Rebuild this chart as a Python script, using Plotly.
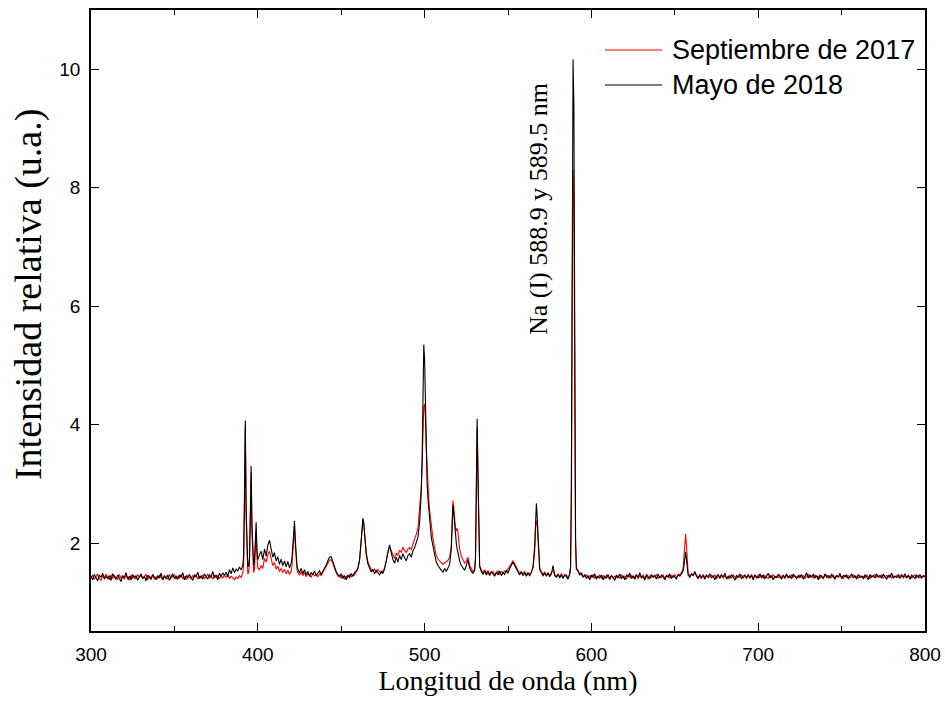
import plotly.graph_objects as go

# Wavelength grid (nm), shared by both spectra
wavelength = [
    300, 301, 302, 303, 304, 305, 306, 307, 308, 309,
    310, 311, 312, 313, 314, 315, 316, 317, 318, 319,
    320, 321, 322, 323, 324, 325, 326, 327, 328, 329,
    330, 331, 332, 333, 334, 335, 336, 337, 338, 339,
    340, 341, 342, 343, 344, 345, 346, 347, 348, 349,
    350, 351, 352, 353, 354, 355, 356, 357, 358, 359,
    360, 361, 362, 363, 364, 365, 366, 367, 368, 369,
    370, 371, 372, 373, 374, 375, 376, 377, 378, 379,
    380, 381, 382, 383, 384, 385, 386, 387, 388, 389,
    390, 391, 391.5, 392, 392.5, 393, 393.5, 394, 394.5, 395,
    395.5, 396, 396.5, 397, 397.5, 398, 398.5, 399, 399.5, 400,
    401, 402, 403, 404, 405, 406, 407, 408, 409, 410,
    411, 412, 413, 414, 415, 416, 417, 418, 419, 420,
    420.5, 421, 421.5, 422, 422.5, 423, 423.5, 424, 425, 426,
    427, 428, 429, 430, 431, 432, 433, 434, 435, 436,
    437, 438, 439, 440, 441, 442, 443, 444, 445, 446,
    447, 448, 449, 450, 451, 452, 453, 454, 455, 456,
    457, 458, 459, 460, 461, 462, 462.5, 463, 463.5, 464,
    465, 466, 467, 468, 469, 470, 471, 472, 473, 474,
    475, 476, 477, 478, 479, 480, 481, 482, 483, 484,
    485, 486, 487, 488, 489, 490, 491, 492, 493, 494,
    495, 496, 497, 498, 498.5, 499, 499.5, 500, 500.5, 501,
    501.5, 502, 502.5, 503, 504, 505, 506, 507, 508, 509,
    510, 511, 512, 513, 514, 515, 516, 516.5, 517, 517.5,
    518, 518.5, 519, 519.5, 520, 521, 522, 523, 524, 525,
    526, 527, 528, 529, 530, 530.5, 531, 531.5, 532, 532.5,
    533, 534, 535, 536, 537, 538, 539, 540, 541, 542,
    543, 544, 545, 546, 547, 548, 549, 550, 551, 552,
    553, 554, 555, 556, 557, 558, 559, 560, 561, 562,
    563, 564, 565, 566, 566.5, 567, 567.5, 568, 568.5, 569,
    570, 571, 572, 573, 574, 575, 576, 577, 578, 579,
    580, 581, 582, 583, 584, 585, 586, 587, 587.5, 588,
    588.5, 589, 589.5, 590, 590.5, 591, 592, 593, 594, 595,
    596, 597, 598, 599, 600, 601, 602, 603, 604, 605,
    606, 607, 608, 609, 610, 611, 612, 613, 614, 615,
    616, 617, 618, 619, 620, 621, 622, 623, 624, 625,
    626, 627, 628, 629, 630, 631, 632, 633, 634, 635,
    636, 637, 638, 639, 640, 641, 642, 643, 644, 645,
    646, 647, 648, 649, 650, 651, 652, 653, 654, 655,
    655.5, 656, 656.5, 657, 657.5, 658, 659, 660, 661, 662,
    663, 664, 665, 666, 667, 668, 669, 670, 671, 672,
    673, 674, 675, 676, 677, 678, 679, 680, 681, 682,
    683, 684, 685, 686, 687, 688, 689, 690, 691, 692,
    693, 694, 695, 696, 697, 698, 699, 700, 701, 702,
    703, 704, 705, 706, 707, 708, 709, 710, 711, 712,
    713, 714, 715, 716, 717, 718, 719, 720, 721, 722,
    723, 724, 725, 726, 727, 728, 729, 730, 731, 732,
    733, 734, 735, 736, 737, 738, 739, 740, 741, 742,
    743, 744, 745, 746, 747, 748, 749, 750, 751, 752,
    753, 754, 755, 756, 757, 758, 759, 760, 761, 762,
    763, 764, 765, 766, 767, 768, 769, 770, 771, 772,
    773, 774, 775, 776, 777, 778, 779, 780, 781, 782,
    783, 784, 785, 786, 787, 788, 789, 790, 791, 792,
    793, 794, 795, 796, 797, 798, 799, 800,
]

# Septiembre de 2017 (red)
sep_2017 = [
    1.41, 1.46, 1.39, 1.44, 1.48, 1.40, 1.37, 1.45, 1.42, 1.47,
    1.43, 1.38, 1.46, 1.40, 1.45, 1.42, 1.38, 1.47, 1.41, 1.44,
    1.39, 1.45, 1.42, 1.37, 1.46, 1.41, 1.44, 1.39, 1.47, 1.42,
    1.45, 1.40, 1.43, 1.47, 1.38, 1.44, 1.41, 1.46, 1.39, 1.43,
    1.40, 1.46, 1.42, 1.38, 1.45, 1.43, 1.39, 1.47, 1.41, 1.44,
    1.46, 1.39, 1.44, 1.41, 1.47, 1.40, 1.43, 1.38, 1.45, 1.42,
    1.40, 1.45, 1.42, 1.47, 1.39, 1.44, 1.41, 1.46, 1.40, 1.43,
    1.47, 1.41, 1.44, 1.39, 1.46, 1.42, 1.45, 1.40, 1.44, 1.41,
    1.45, 1.42, 1.47, 1.40, 1.44, 1.41, 1.38, 1.43, 1.40, 1.45,
    1.42, 1.50, 1.62, 2.60, 3.95, 2.45, 1.60, 1.48, 1.50, 1.62,
    2.35, 3.20, 2.20, 1.62, 1.50, 1.55, 1.80, 2.20, 1.75, 1.58,
    1.55, 1.62, 1.57, 1.74, 1.68, 1.80, 1.86, 1.74, 1.62, 1.67,
    1.56, 1.61, 1.52, 1.57, 1.50, 1.56, 1.48, 1.54, 1.47, 1.52,
    1.62, 1.85, 2.10, 2.25, 1.95, 1.68, 1.55, 1.50, 1.46, 1.51,
    1.45, 1.50, 1.43, 1.48, 1.46, 1.42, 1.49, 1.45, 1.47, 1.43,
    1.48, 1.45, 1.50, 1.55, 1.60, 1.66, 1.71, 1.72, 1.66, 1.57,
    1.50, 1.44, 1.46, 1.41, 1.45, 1.39, 1.44, 1.42, 1.47, 1.43,
    1.47, 1.46, 1.51, 1.56, 1.70, 2.00, 2.25, 2.38, 2.33, 2.12,
    1.85, 1.68, 1.60, 1.55, 1.52, 1.56, 1.50, 1.55, 1.52, 1.49,
    1.53, 1.58, 1.70, 1.86, 1.94, 1.87, 1.78, 1.74, 1.83, 1.79,
    1.88, 1.84, 1.93, 1.87, 1.84, 1.90, 1.92, 1.89, 1.98, 2.05,
    2.15, 2.25, 2.55, 2.95, 3.30, 3.90, 4.30, 4.35, 4.10, 3.60,
    3.20, 2.95, 2.75, 2.55, 2.25, 2.08, 1.92, 1.79, 1.73, 1.70,
    1.67, 1.64, 1.67, 1.68, 1.71, 1.76, 1.95, 2.40, 2.72, 2.60,
    2.40, 2.25, 2.20, 2.25, 2.18, 1.90, 1.78, 1.72, 1.66, 1.70,
    1.76, 1.62, 1.56, 1.52, 1.55, 1.72, 2.70, 3.95, 3.10, 1.85,
    1.62, 1.55, 1.50, 1.55, 1.49, 1.53, 1.48, 1.50, 1.52, 1.47,
    1.49, 1.53, 1.48, 1.52, 1.50, 1.53, 1.51, 1.56, 1.60, 1.66,
    1.70, 1.65, 1.58, 1.54, 1.49, 1.51, 1.48, 1.52, 1.47, 1.50,
    1.48, 1.51, 1.58, 1.85, 2.25, 2.38, 2.30, 2.05, 1.78, 1.58,
    1.52, 1.47, 1.51, 1.46, 1.49, 1.45, 1.50, 1.54, 1.47, 1.44,
    1.45, 1.44, 1.48, 1.43, 1.45, 1.46, 1.42, 1.47, 1.58, 2.70,
    6.20, 8.30, 7.80, 4.30, 1.95, 1.55, 1.54, 1.48, 1.47, 1.44,
    1.44, 1.46, 1.41, 1.45, 1.42, 1.47, 1.40, 1.44, 1.42, 1.46,
    1.41, 1.45, 1.40, 1.46, 1.43, 1.39, 1.45, 1.41, 1.44, 1.42,
    1.45, 1.40, 1.46, 1.42, 1.44, 1.39, 1.47, 1.42, 1.45, 1.41,
    1.43, 1.47, 1.40, 1.45, 1.42, 1.46, 1.41, 1.44, 1.39, 1.45,
    1.42, 1.45, 1.43, 1.47, 1.40, 1.44, 1.42, 1.46, 1.41, 1.44,
    1.46, 1.41, 1.45, 1.42, 1.47, 1.43, 1.45, 1.47, 1.50, 1.58,
    1.80, 2.05, 2.15, 1.95, 1.65, 1.50, 1.45, 1.47, 1.46, 1.50,
    1.46, 1.43, 1.44, 1.40, 1.47, 1.42, 1.45, 1.41, 1.44, 1.46,
    1.42, 1.46, 1.40, 1.44, 1.43, 1.47, 1.41, 1.45, 1.42, 1.40,
    1.45, 1.41, 1.46, 1.43, 1.40, 1.45, 1.42, 1.46, 1.41, 1.44,
    1.43, 1.45, 1.40, 1.47, 1.42, 1.44, 1.41, 1.46, 1.42, 1.45,
    1.41, 1.45, 1.43, 1.40, 1.46, 1.42, 1.47, 1.41, 1.44, 1.42,
    1.46, 1.42, 1.44, 1.40, 1.45, 1.43, 1.41, 1.46, 1.42, 1.45,
    1.43, 1.41, 1.46, 1.42, 1.45, 1.40, 1.44, 1.47, 1.42, 1.44,
    1.41, 1.46, 1.43, 1.44, 1.40, 1.45, 1.42, 1.44, 1.46, 1.41,
    1.45, 1.42, 1.46, 1.41, 1.44, 1.43, 1.45, 1.42, 1.40, 1.46,
    1.42, 1.45, 1.41, 1.44, 1.46, 1.42, 1.44, 1.41, 1.45, 1.43,
    1.44, 1.41, 1.46, 1.43, 1.40, 1.45, 1.43, 1.47, 1.42, 1.44,
    1.42, 1.46, 1.41, 1.44, 1.45, 1.42, 1.46, 1.41, 1.44, 1.43,
    1.45, 1.42, 1.44, 1.47, 1.41, 1.44, 1.42, 1.46, 1.43, 1.41,
    1.44, 1.46, 1.42, 1.45, 1.41, 1.44, 1.43, 1.45,
]

# Mayo de 2018 (black)
may_2018 = [
    1.44, 1.38, 1.47, 1.41, 1.36, 1.46, 1.42, 1.49, 1.39, 1.44,
    1.40, 1.45, 1.37, 1.48, 1.43, 1.39, 1.46, 1.41, 1.35, 1.45,
    1.42, 1.50, 1.39, 1.44, 1.38, 1.47, 1.41, 1.45, 1.37, 1.43,
    1.48, 1.40, 1.44, 1.36, 1.46, 1.42, 1.39, 1.47, 1.43, 1.38,
    1.45, 1.41, 1.49, 1.38, 1.44, 1.40, 1.46, 1.37, 1.43, 1.48,
    1.40, 1.44, 1.39, 1.46, 1.42, 1.50, 1.38, 1.45, 1.41, 1.47,
    1.42, 1.37, 1.46, 1.43, 1.51, 1.40, 1.45, 1.39, 1.48, 1.44,
    1.39, 1.47, 1.42, 1.52, 1.41, 1.46, 1.38, 1.49, 1.44, 1.50,
    1.45, 1.51, 1.43, 1.55, 1.48, 1.58, 1.50, 1.56, 1.53, 1.59,
    1.55, 1.62, 1.78, 2.80, 4.07, 2.60, 1.75, 1.60, 1.62, 1.75,
    2.50, 3.30, 2.30, 1.75, 1.62, 1.70, 1.95, 2.35, 1.90, 1.72,
    1.80, 1.86, 1.72, 1.90, 1.78, 1.96, 2.05, 1.88, 1.76, 1.84,
    1.70, 1.77, 1.64, 1.73, 1.62, 1.70, 1.60, 1.69, 1.58, 1.66,
    1.75, 1.95, 2.20, 2.37, 2.05, 1.75, 1.62, 1.56, 1.50, 1.57,
    1.48, 1.55, 1.46, 1.52, 1.44, 1.50, 1.47, 1.53, 1.45, 1.49,
    1.53, 1.47, 1.52, 1.58, 1.63, 1.70, 1.76, 1.77, 1.68, 1.60,
    1.52, 1.47, 1.43, 1.48, 1.40, 1.45, 1.38, 1.46, 1.42, 1.48,
    1.44, 1.50, 1.53, 1.58, 1.72, 2.05, 2.30, 2.42, 2.35, 2.10,
    1.80, 1.65, 1.57, 1.51, 1.56, 1.48, 1.54, 1.50, 1.46, 1.52,
    1.49, 1.56, 1.68, 1.85, 1.97, 1.84, 1.72, 1.66, 1.76, 1.68,
    1.79, 1.72, 1.82, 1.75, 1.70, 1.79, 1.82, 1.76, 1.87, 1.92,
    2.00, 2.10, 2.35, 2.85, 3.40, 4.50, 5.35, 5.10, 4.20, 3.50,
    3.00, 2.75, 2.55, 2.40, 2.10, 1.95, 1.80, 1.68, 1.62, 1.57,
    1.54, 1.51, 1.57, 1.52, 1.59, 1.64, 1.90, 2.35, 2.64, 2.50,
    2.30, 2.12, 2.00, 1.90, 1.82, 1.70, 1.62, 1.57, 1.54, 1.62,
    1.72, 1.58, 1.52, 1.49, 1.54, 1.75, 2.80, 4.10, 3.20, 1.90,
    1.60, 1.52, 1.47, 1.53, 1.46, 1.51, 1.45, 1.52, 1.48, 1.44,
    1.51, 1.46, 1.53, 1.45, 1.50, 1.47, 1.54, 1.49, 1.57, 1.63,
    1.68, 1.62, 1.57, 1.50, 1.46, 1.52, 1.45, 1.50, 1.44, 1.49,
    1.45, 1.50, 1.60, 1.95, 2.45, 2.67, 2.45, 2.10, 1.75, 1.55,
    1.50, 1.45, 1.49, 1.44, 1.50, 1.43, 1.48, 1.62, 1.45, 1.42,
    1.48, 1.41, 1.46, 1.40, 1.47, 1.43, 1.39, 1.48, 1.60, 3.00,
    7.50, 10.17, 9.40, 5.20, 2.10, 1.58, 1.52, 1.46, 1.50, 1.42,
    1.47, 1.40, 1.45, 1.38, 1.46, 1.42, 1.48, 1.39, 1.44, 1.41,
    1.46, 1.38, 1.44, 1.41, 1.47, 1.39, 1.45, 1.42, 1.37, 1.46,
    1.41, 1.48, 1.40, 1.44, 1.38, 1.46, 1.43, 1.49, 1.40, 1.45,
    1.39, 1.46, 1.42, 1.50, 1.41, 1.44, 1.37, 1.47, 1.43, 1.40,
    1.47, 1.42, 1.45, 1.39, 1.48, 1.41, 1.46, 1.43, 1.38, 1.45,
    1.42, 1.48, 1.40, 1.45, 1.43, 1.39, 1.47, 1.44, 1.48, 1.53,
    1.62, 1.78, 1.85, 1.72, 1.55, 1.46, 1.42, 1.48, 1.45, 1.52,
    1.44, 1.40, 1.47, 1.42, 1.45, 1.39, 1.46, 1.43, 1.48, 1.41,
    1.45, 1.38, 1.44, 1.47, 1.40, 1.46, 1.42, 1.49, 1.39, 1.44,
    1.41, 1.46, 1.43, 1.37, 1.45, 1.42, 1.48, 1.40, 1.44, 1.46,
    1.40, 1.47, 1.42, 1.45, 1.38, 1.46, 1.43, 1.41, 1.48, 1.42,
    1.46, 1.40, 1.44, 1.49, 1.41, 1.45, 1.38, 1.44, 1.42, 1.47,
    1.43, 1.39, 1.46, 1.42, 1.48, 1.41, 1.45, 1.40, 1.47, 1.43,
    1.40, 1.45, 1.42, 1.47, 1.39, 1.44, 1.50, 1.41, 1.46, 1.43,
    1.47, 1.41, 1.45, 1.38, 1.46, 1.43, 1.40, 1.48, 1.42, 1.45,
    1.41, 1.47, 1.43, 1.39, 1.46, 1.42, 1.49, 1.40, 1.45, 1.43,
    1.46, 1.40, 1.44, 1.48, 1.41, 1.45, 1.39, 1.47, 1.42, 1.44,
    1.40, 1.46, 1.43, 1.38, 1.47, 1.42, 1.45, 1.41, 1.48, 1.43,
    1.45, 1.41, 1.47, 1.43, 1.39, 1.46, 1.42, 1.49, 1.41, 1.44,
    1.42, 1.47, 1.40, 1.45, 1.43, 1.48, 1.41, 1.45, 1.39, 1.46,
    1.43, 1.40, 1.46, 1.42, 1.47, 1.41, 1.45, 1.43,
]

x_ticks = [300, 400, 500, 600, 700, 800]
x_minor = [350, 450, 550, 650, 750]
y_ticks = [2, 4, 6, 8, 10]
series_names = ["Septiembre de 2017", "Mayo de 2018"]
series_colors = ["#ff0000", "#000000"]
annotation_text = "Na (I) 588.9 y 589.5 nm"

assert len(wavelength) == len(sep_2017) == len(may_2018), (len(wavelength), len(sep_2017), len(may_2018))

fig = go.Figure()
for name, ys, col in zip(series_names, [sep_2017, may_2018], series_colors):
    fig.add_trace(go.Scatter(x=wavelength, y=ys, mode="lines", name=name,
                             line=dict(color=col, width=1.1), showlegend=False))

serif = "Liberation Serif, Times New Roman, serif"
sans = "Liberation Sans, Arial, sans-serif"

fig.update_layout(
    width=945, height=702,
    margin=dict(l=91, r=20, t=10, b=71),
    plot_bgcolor="white", paper_bgcolor="white",
    xaxis=dict(
        range=[300, 800], tickvals=x_ticks, ticktext=[str(v) for v in x_ticks],
        ticks="inside", ticklen=8, tickwidth=1.3, tickcolor="black",
        minor=dict(tickvals=x_minor, ticks="inside", ticklen=5,
                   tickwidth=1.3, tickcolor="black"),
        showline=True, linecolor="black", linewidth=1.6, mirror="allticks",
        showgrid=False, zeroline=False, automargin=False,
        tickfont=dict(family=sans, size=19, color="black"),
        ticklabelstandoff=5,
        title=dict(text="Longitud de onda (nm)", font=dict(family=serif, size=28, color="black"),
                   standoff=5),
    ),
    yaxis=dict(
        range=[0.515, 11.0], tickvals=y_ticks, ticktext=[str(v) for v in y_ticks],
        ticks="inside", ticklen=8, tickwidth=1.3, tickcolor="black",
        showline=True, linecolor="black", linewidth=1.6, mirror="allticks",
        showgrid=False, zeroline=False, automargin=False,
        tickfont=dict(family=sans, size=19, color="black"),
        ticklabelstandoff=5,
    ),
)

# Y-axis title placed as in the reference
fig.add_annotation(xref="paper", yref="paper", x=-0.0755, y=0.541, text="Intensidad relativa (u.a.)",
                   textangle=-90, showarrow=False, xanchor="center", yanchor="middle",
                   font=dict(family=serif, size=38, color="black"))

# Rotated peak label
fig.add_annotation(x=568, y=7.64, xref="x", yref="y", text=annotation_text, textangle=-90,
                   showarrow=False, font=dict(family=serif, size=26, color="black"))

# Legend drawn manually (longer sample lines as in the reference)
leg_y = [0.9356, 0.8792]
for name, col, yy in zip(series_names, series_colors, leg_y):
    fig.add_shape(type="line", xref="paper", yref="paper", x0=0.6163, x1=0.6847, y0=yy, y1=yy,
                  line=dict(color=col, width=1.2))
    fig.add_annotation(xref="paper", yref="paper", x=0.6942, y=yy, text=name, showarrow=False,
                       xanchor="left", yanchor="middle",
                       font=dict(family=sans, size=27, color="black"))

fig.write_html("out.html")
